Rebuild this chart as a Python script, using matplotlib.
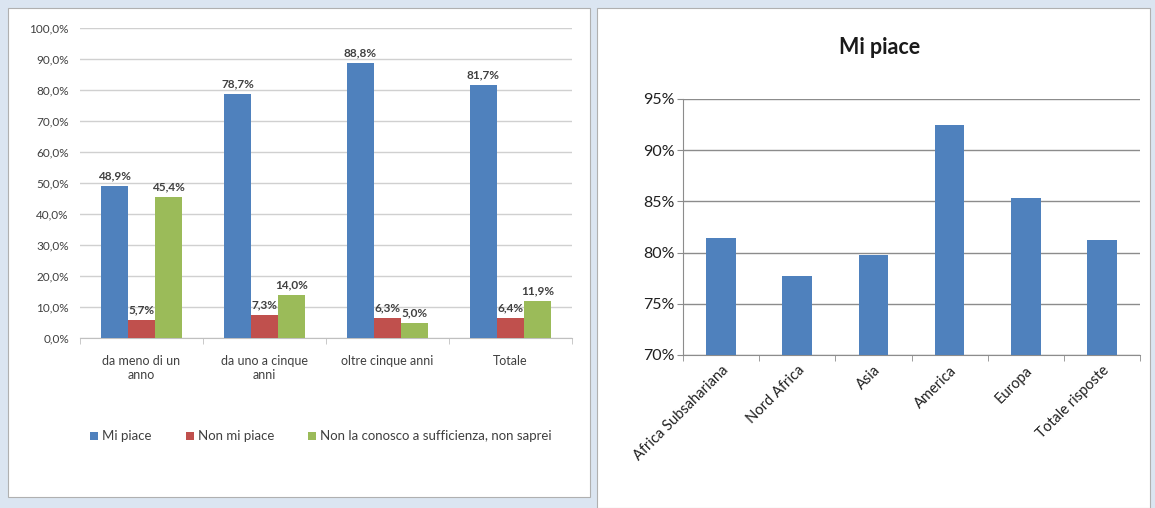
import matplotlib
matplotlib.use("Agg")
import matplotlib.pyplot as plt
import numpy as np
from matplotlib.patches import Rectangle
from matplotlib.ticker import FuncFormatter

plt.rcParams['font.family'] = ['Lato', 'DejaVu Sans']

# left chart data
groups = ["da meno di un\nanno", "da uno a cinque\nanni", "oltre cinque anni", "Totale"]
mi_piace = [48.9, 78.7, 88.8, 81.7]
non_mi_piace = [5.7, 7.3, 6.3, 6.4]
non_conosco = [45.4, 14.0, 5.0, 11.9]
series_names = ["Mi piace", "Non mi piace", "Non la conosco a sufficienza, non saprei"]

# right chart data
regions = ["Africa Subsahariana", "Nord Africa", "Asia", "America", "Europa", "Totale risposte"]
regions_mi_piace = [81.4, 77.7, 79.8, 92.5, 85.3, 81.2]

BLUE = "#4f81bd"
RED = "#c0504d"
GREEN = "#9bbb59"
TXT = "#404040"

fig = plt.figure(figsize=(11.55, 5.08), dpi=100)
fig.patch.set_facecolor("#dbe5f1")

# white panels
fig.add_artist(Rectangle((8/1155, 1-497/508), 582/1155, 489/508, transform=fig.transFigure,
                         facecolor="white", edgecolor="#b0b0b0", lw=0.8, zorder=0))
fig.add_artist(Rectangle((597/1155, 0), 553/1155, 1-8/508, transform=fig.transFigure,
                         facecolor="white", edgecolor="#b0b0b0", lw=0.8, zorder=0))

# ---- left chart ----
ax1 = fig.add_axes([80/1155, 1-338/508, 492/1155, 310/508])
x = np.arange(len(groups))
w = 0.22
all_series = [mi_piace, non_mi_piace, non_conosco]
colors = [BLUE, RED, GREEN]
for i, (vals, c, name) in enumerate(zip(all_series, colors, series_names)):
    bars = ax1.bar(x + (i - 1) * w, vals, w, color=c, label=name, zorder=3)
    for b, v in zip(bars, vals):
        ax1.text(b.get_x() + b.get_width() / 2, v + 1.5, f"{v:.1f}%".replace(".", ","),
                 ha="center", va="bottom", fontsize=8.5, fontweight="bold", color=TXT)
ax1.set_ylim(0, 100)
ax1.set_xlim(-0.5, len(groups) - 0.5)
ax1.set_yticks(np.arange(0, 101, 10))
ax1.yaxis.set_major_formatter(FuncFormatter(lambda v, p: f"{v:.1f}%".replace(".", ",")))
ax1.grid(axis="y", color="#d0d0d0", lw=1, zorder=0)
for s in ["top", "right", "left"]:
    ax1.spines[s].set_visible(False)
ax1.spines["bottom"].set_color("#c0c0c0")
ax1.tick_params(axis="y", length=0, labelsize=8.5, labelcolor=TXT, pad=8)
ax1.set_xticks(x)
ax1.set_xticklabels(groups, fontsize=9, color=TXT)
ax1.tick_params(axis="x", length=0, pad=12)
ax1.set_xticks(np.arange(-0.5, len(groups), 1), minor=True)
ax1.tick_params(axis="x", which="minor", length=4, color="#c0c0c0")
ax1.legend(loc="upper center", bbox_to_anchor=(0.49, -0.26), ncol=3, frameon=False,
           fontsize=9.5, handlelength=0.6, handleheight=0.6, handletextpad=0.3,
           columnspacing=2.6, labelcolor=TXT)

# ---- right chart ----
ax2 = fig.add_axes([683/1155, 1-355/508, 457/1155, 256/508])
x2 = np.arange(len(regions))
ax2.bar(x2, regions_mi_piace, 0.39, bottom=0, color=BLUE, zorder=3)
ax2.set_ylim(70, 95)
ax2.set_xlim(-0.5, len(regions) - 0.5)
ax2.set_yticks(np.arange(70, 96, 5))
ax2.yaxis.set_major_formatter(FuncFormatter(lambda v, p: f"{v:.0f}%"))
ax2.grid(axis="y", color="#8c8c8c", lw=1, zorder=0)
for s in ["top", "right"]:
    ax2.spines[s].set_visible(False)
ax2.spines["left"].set_color("#8c8c8c")
ax2.spines["bottom"].set_color("#8c8c8c")
ax2.tick_params(axis="y", length=4, color="#8c8c8c", labelsize=11.5, labelcolor="#202020", pad=2)
ax2.set_xticks(x2)
ax2.set_xticklabels(regions, rotation=45, ha="right", rotation_mode="anchor",
                    fontsize=10.5, color="#202020")
ax2.tick_params(axis="x", length=0, pad=6)
ax2.set_xticks(np.arange(-0.5, len(regions), 1), minor=True)
ax2.tick_params(axis="x", which="minor", length=4, color="#8c8c8c")
fig.text(880/1155, 1-47/508, "Mi piace", ha="center", va="center",
         fontsize=15.5, fontweight="bold", color="#1a1a1a")

fig.savefig("out.png", dpi=100, facecolor=fig.get_facecolor())
